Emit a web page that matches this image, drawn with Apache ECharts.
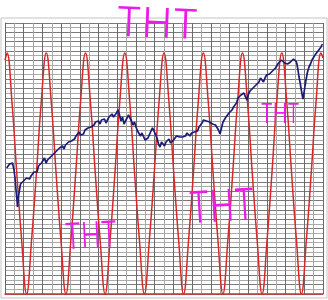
<!DOCTYPE html>
<html>
<head>
<meta charset="utf-8">
<script src="https://cdn.jsdelivr.net/npm/echarts@6/dist/echarts.min.js"></script>
<style>
html,body{margin:0;padding:0;background:#fff;}
#c{width:328px;height:300px;}
</style>
</head>
<body>
<div id="c"></div>
<script>
// Grid divisions (no tick labels are printed on the chart)
var gridCols = 34;
var gridRows = 58;

// Red cycle line: [position, relative amplitude]
var cycleLine = [
  [0,0.97],[2,1],[6.9,0.8],[11.8,0.5],[16.7,0.22],[21.6,0],[26.5,0.22],[31.4,0.5],[36.3,0.8],
  [41.3,1],[46.2,0.8],[51.1,0.5],[56,0.22],[60.9,0],[65.8,0.22],[70.7,0.5],[75.6,0.8],
  [80.5,1],[85.4,0.8],[90.3,0.5],[95.2,0.22],[100.1,0],[105,0.22],[109.9,0.5],[114.8,0.8],
  [119.8,1],[124.7,0.8],[129.6,0.5],[134.5,0.22],[139.4,0],[144.3,0.22],[149.2,0.5],[154.1,0.8],
  [159,1],[163.9,0.8],[168.8,0.5],[173.7,0.22],[178.6,0],[183.5,0.22],[188.4,0.5],[193.3,0.8],
  [198.3,1],[203.2,0.8],[208.1,0.5],[213,0.22],[217.9,0],[222.8,0.22],[227.7,0.5],[232.6,0.8],
  [237.5,1],[242.4,0.8],[247.3,0.5],[252.2,0.22],[257.1,0],[262,0.22],[266.9,0.5],[271.8,0.8],
  [276.8,1],[281.7,0.8],[286.6,0.5],[291.5,0.22],[296.4,0],[301.3,0.22],[306.2,0.5],[311.1,0.8],
  [316,1],[318,0.98]
];

// Navy index line: [position, level]
var indexLine = [
  [1.7,126],[3,127],[4.5,130],[6,129],[7.5,131],[9,124],[10,116],[11,104],[12,94],[12.5,87],
  [13.5,98],[14.5,104],[15.5,110],[17,108],[18.5,113],[20,111],[21.5,116],[23,118],[24.5,115],[26,118],
  [27.5,116],[29,122],[30.5,124],[32,122],[33.5,128],[35,127],[36.5,131],[38,129],[39.5,136],[41,131],
  [42.5,134],[44,132],[45.5,137],[47,135],[48.5,140],[50,139],[51.5,143],[53,142],[54.5,146],[56,145],
  [57.5,148],[59,145],[60.5,149],[62,148],[63.5,152],[65,150],[66.5,153],[68,151],[69.5,155],[71,158],
  [72.5,157],[74,162],[75.5,159],[77,161],[78.5,160],[80,164],[81.5,163],[83,166],[84.5,164],[86,167],
  [87.5,166],[89,169],[90.5,172],[92,170],[93.5,173],[95,170],[96.5,174],[98,173],[99.5,175],[101,171],
  [102.5,174],[104,177],[105.5,176],[107,180],[108.5,177],[110,175],[111.5,181],[113,184],[114.5,179],[116,173],
  [117.5,177],[119,170],[120.5,172],[122,176],[123.5,179],[125,177],[126.5,173],[128,169],[129.5,172],[131,167],
  [132.5,163],[134,165],[135.5,158],[137,161],[138.5,160],[140,154],[141.5,152],[143,156],[144.5,158],[146,163],
  [147.5,166],[149,163],[150.5,161],[152,156],[153.5,150],[155,147],[156.5,152],[158,150],[159.5,148],[161,152],
  [162.5,153],[164,155],[165.5,151],[167,149],[168.5,154],[170,155],[171.5,158],[173,156],[174.5,157],[176,155],
  [177.5,157],[179,159],[180.5,158],[182,161],[183.5,160],[185,158],[186.5,161],[188,159],[189.5,162],[191,161],
  [192.5,163],[194,167],[195.5,169],[197,171],[198.5,174],[200,176],[201.5,173],[203,175],[204.5,172],[206,173],
  [207.5,170],[209,172],[210.5,169],[212,167],[213.5,164],[215,160],[216.5,166],[218,172],[219.5,174],[221,177],
  [222.5,178],[224,181],[225.5,180],[227,184],[228.5,187],[230,186],[231.5,191],[233,196],[234.5,197],[236,199],
  [237.5,198],[239,201],[240.5,197],[242,194],[243.5,200],[245,203],[246.5,204],[248,206],[249.5,205],[251,209],
  [252.5,211],[254,212],[255.5,216],[257,214],[258.5,212],[260,216],[261.5,219],[263,221],[264.5,220],[266,222],
  [267.5,223],[269,224],[270.5,226],[272,228],[273.5,231],[275,230],[276.5,234],[278,232],[279.5,231],[281,233],
  [282.5,230],[284,228],[285.5,232],[287,234],[288.5,235],[290,236],[291.5,232],[293,224],[294,217],[295,212],
  [296,206],[297,200],[298,195],[299,201],[300,208],[301,214],[302.5,222],[304,227],[305.5,230],[307,234],
  [308.5,236],[310,239],[311.5,241],[313,243],[314.5,245],[316,247],[317.3,250]
];

// Hand-written notes
var notes = ['THT', 'THT', 'THT', 'THT'];

var chart = echarts.init(document.getElementById('c'), null, {renderer: 'canvas'});
var hidden = {show: false};
var noteStyle = function (txt, x, y, size, sx, rot) {
  return {
    type: 'text', x: x, y: y, scaleX: sx, rotation: rot || 0, z: 100,
    style: {text: txt, fill: '#e81ee8', font: '300 ' + size + 'px Inter, "DejaVu Sans"', textAlign: 'center', textVerticalAlign: 'middle'}
  };
};
chart.setOption({
  animation: false,
  backgroundColor: '#fff',
  grid: [
    {left: 1, top: 18, right: 1, bottom: 2, show: true, borderColor: '#c4c4c4', borderWidth: 1, backgroundColor: '#fff'},
    {left: 5, top: 23, right: 5, bottom: 6}
  ],
  xAxis: [
    {gridIndex: 0, type: 'value', min: 0, max: 1, show: false},
    {gridIndex: 1, type: 'value', min: 0, max: gridCols, interval: 1,
      axisLabel: hidden, axisTick: hidden,
      axisLine: {show: true, onZero: false, lineStyle: {color: '#c83232', width: 1.5}},
      splitLine: {show: true, lineStyle: {color: ['#6a6a6a', '#a8a8a8', '#6a6a6a', '#a8a8a8'], width: 1}}},
    {gridIndex: 1, type: 'value', min: 0, max: 318, show: false}
  ],
  yAxis: [
    {gridIndex: 0, type: 'value', min: 0, max: 1, show: false},
    {gridIndex: 1, type: 'value', min: 0, max: gridRows, interval: 1,
      axisLabel: hidden, axisTick: hidden,
      axisLine: {show: true, lineStyle: {color: '#666'}},
      splitLine: {show: true, lineStyle: {color: ['#7a7a7a', '#ababab'], width: 1}}},
    {gridIndex: 1, type: 'value', min: 0, max: 271, show: false},
    {gridIndex: 1, type: 'value', min: 0, max: 1.125, show: false}
  ],
  series: [
    {type: 'line', xAxisIndex: 2, yAxisIndex: 3, data: cycleLine, smooth: 0.45, showSymbol: false,
      lineStyle: {color: '#d62828', width: 1.5}, z: 3},
    {type: 'line', xAxisIndex: 2, yAxisIndex: 2, data: indexLine, showSymbol: false,
      lineStyle: {color: '#1c1c78', width: 1.7}, z: 4}
  ],
  graphic: [
    noteStyle(notes[0], 157, 25, 41, 1, -0.04),
    noteStyle(notes[1], 280, 115, 27, 0.72, 0),
    noteStyle(notes[2], 91, 237, 36, 0.73, 0.05),
    noteStyle(notes[3], 222, 208, 44, 0.75, 0.06)
  ]
});
</script>
</body>
</html>
